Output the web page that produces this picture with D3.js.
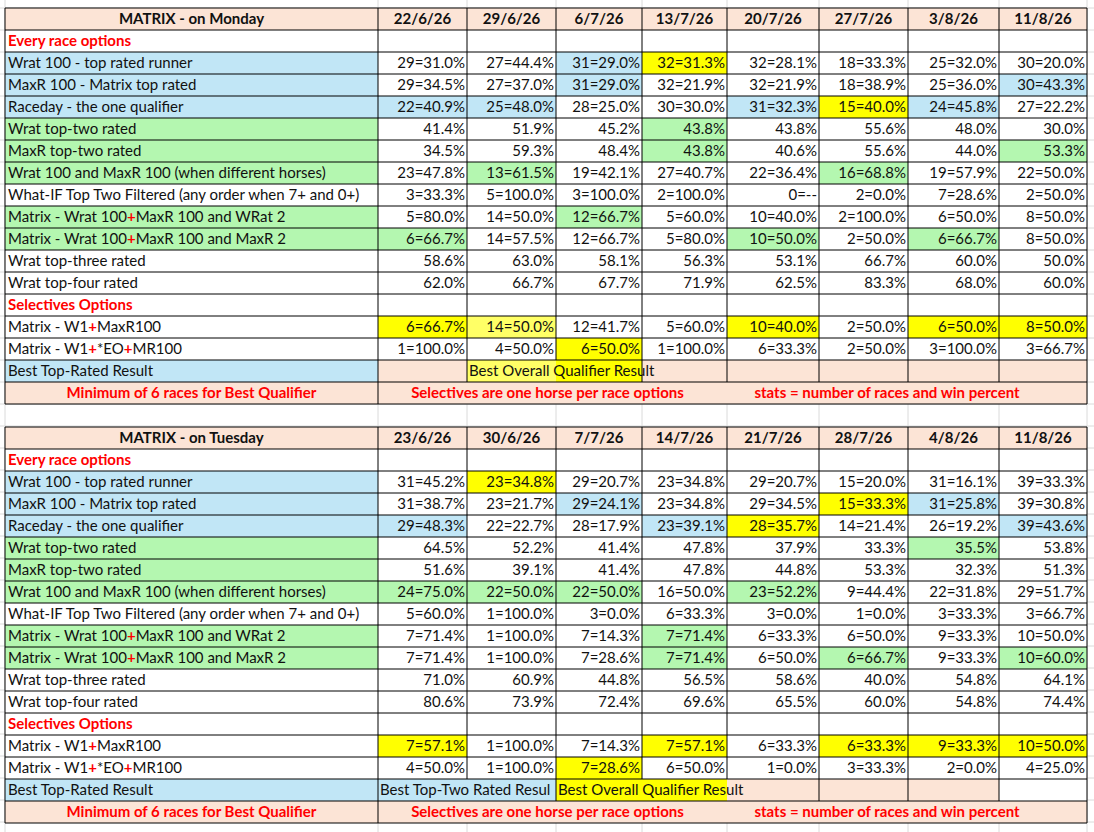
<html>
<head>
<script src="https://d3js.org/d3.v7.min.js"></script>
<style>
  body { margin: 0; background: #fff; }
  text { font-family: Lato, "Open Sans", sans-serif; font-size: 15px; fill: #111; }
  .bold { font-weight: bold; }
  .red { fill: #ff0000; font-weight: bold; }
</style>
</head>
<body>
<svg id="sheet" width="1094" height="832"></svg>
<script>
const mondayDates = ["22/6/26","29/6/26","6/7/26","13/7/26","20/7/26","27/7/26","3/8/26","11/8/26"];
const tuesdayDates = ["23/6/26","30/6/26","7/7/26","14/7/26","21/7/26","28/7/26","4/8/26","11/8/26"];

const rowLabels = [
  "Every race options",
  "Wrat 100 - top rated runner",
  "MaxR 100 - Matrix top rated",
  "Raceday - the one qualifier",
  "Wrat top-two rated",
  "MaxR top-two rated",
  "Wrat 100 and MaxR 100 (when different horses)",
  "What-IF Top Two Filtered (any order when 7+ and 0+)",
  "Matrix - Wrat 100+MaxR 100 and WRat 2",
  "Matrix - Wrat 100+MaxR 100 and MaxR  2",
  "Wrat top-three rated",
  "Wrat top-four rated",
  "Selectives Options",
  "Matrix - W1+MaxR100",
  "Matrix - W1+*EO+MR100",
  "Best Top-Rated Result",
  "Minimum of 6 races for Best Qualifier"
];

const mondayValues = [
  ["","","","","","","",""],
  ["29=31.0%","27=44.4%","31=29.0%","32=31.3%","32=28.1%","18=33.3%","25=32.0%","30=20.0%"],
  ["29=34.5%","27=37.0%","31=29.0%","32=21.9%","32=21.9%","18=38.9%","25=36.0%","30=43.3%"],
  ["22=40.9%","25=48.0%","28=25.0%","30=30.0%","31=32.3%","15=40.0%","24=45.8%","27=22.2%"],
  ["41.4%","51.9%","45.2%","43.8%","43.8%","55.6%","48.0%","30.0%"],
  ["34.5%","59.3%","48.4%","43.8%","40.6%","55.6%","44.0%","53.3%"],
  ["23=47.8%","13=61.5%","19=42.1%","27=40.7%","22=36.4%","16=68.8%","19=57.9%","22=50.0%"],
  ["3=33.3%","5=100.0%","3=100.0%","2=100.0%","0=--","2=0.0%","7=28.6%","2=50.0%"],
  ["5=80.0%","14=50.0%","12=66.7%","5=60.0%","10=40.0%","2=100.0%","6=50.0%","8=50.0%"],
  ["6=66.7%","14=57.5%","12=66.7%","5=80.0%","10=50.0%","2=50.0%","6=66.7%","8=50.0%"],
  ["58.6%","63.0%","58.1%","56.3%","53.1%","66.7%","60.0%","50.0%"],
  ["62.0%","66.7%","67.7%","71.9%","62.5%","83.3%","68.0%","60.0%"],
  ["","","","","","","",""],
  ["6=66.7%","14=50.0%","12=41.7%","5=60.0%","10=40.0%","2=50.0%","6=50.0%","8=50.0%"],
  ["1=100.0%","4=50.0%","6=50.0%","1=100.0%","6=33.3%","2=50.0%","3=100.0%","3=66.7%"]
];

const tuesdayValues = [
  ["","","","","","","",""],
  ["31=45.2%","23=34.8%","29=20.7%","23=34.8%","29=20.7%","15=20.0%","31=16.1%","39=33.3%"],
  ["31=38.7%","23=21.7%","29=24.1%","23=34.8%","29=34.5%","15=33.3%","31=25.8%","39=30.8%"],
  ["29=48.3%","22=22.7%","28=17.9%","23=39.1%","28=35.7%","14=21.4%","26=19.2%","39=43.6%"],
  ["64.5%","52.2%","41.4%","47.8%","37.9%","33.3%","35.5%","53.8%"],
  ["51.6%","39.1%","41.4%","47.8%","44.8%","53.3%","32.3%","51.3%"],
  ["24=75.0%","22=50.0%","22=50.0%","16=50.0%","23=52.2%","9=44.4%","22=31.8%","29=51.7%"],
  ["5=60.0%","1=100.0%","3=0.0%","6=33.3%","3=0.0%","1=0.0%","3=33.3%","3=66.7%"],
  ["7=71.4%","1=100.0%","7=14.3%","7=71.4%","6=33.3%","6=50.0%","9=33.3%","10=50.0%"],
  ["7=71.4%","1=100.0%","7=28.6%","7=71.4%","6=50.0%","6=66.7%","9=33.3%","10=60.0%"],
  ["71.0%","60.9%","44.8%","56.5%","58.6%","40.0%","54.8%","64.1%"],
  ["80.6%","73.9%","72.4%","69.6%","65.5%","60.0%","54.8%","74.4%"],
  ["","","","","","","",""],
  ["7=57.1%","1=100.0%","7=14.3%","7=57.1%","6=33.3%","6=33.3%","9=33.3%","10=50.0%"],
  ["4=50.0%","1=100.0%","7=28.6%","6=50.0%","1=0.0%","3=33.3%","2=0.0%","4=25.0%"]
];

const footNotes = ["Selectives are one horse per race options", "stats = number of races and win percent"];
const mondayBest = [{col: 1, text: "Best Overall Qualifier Result"}];
const tuesdayBest = [{col: 0, text: "Best Top-Two Rated Resul"}, {col: 2, text: "Best Overall Qualifier Result"}];

// fill codes: first char = label cell, then 8 value cells
const colors = {w: "#ffffff", b: "#c1e6f6", g: "#b4f7b0", y: "#ffff00", l: "#ffff66", p: "#fce4d6"};
const mondayFill = [
  "wwwwwwwww","bwwbywwww","bwwbwwwwb","bbbwwbybw","gwwwgwwww","gwwwgwwwg","gwgwwwgww",
  "wwwwwwwww","gwwgwwwww","ggwwwgwgw","wwwwwwwww","wwwwwwwww","wwwwwwwww",
  "wylwwywyy","wwwywwwww","bplyppppp"
];
const tuesdayFill = [
  "wwwwwwwww","bwywwwwww","bwwbwwybw","bbwwbywwb","gwwwwwwgw","gwwwwwwww","ggggwgwww",
  "wwwwwwwww","gwwwgwwww","gwwwgwgwg","wwwwwwwww","wwwwwwwww","wwwwwwwww",
  "wywwywyyy","wwwywwwww","bbbyypppw"
];

const svg = d3.select("#sheet");
const colEdges = [5, 378, 467, 556, 642, 727, 819, 908, 999, 1087];
const rowH = 22;
const nRows = rowLabels.length + 1;

// faint spreadsheet grid
const grid = svg.append("g");
colEdges.forEach(x => grid.append("line").attr("x1", x).attr("x2", x).attr("y1", 0).attr("y2", 832)
  .attr("stroke", "#dadada"));
d3.range(-1, 40).forEach(i => grid.append("line").attr("x1", 0).attr("x2", 1094)
  .attr("y1", 8 + i * rowH).attr("y2", 8 + i * rowH).attr("stroke", "#dadada"));

function plusText(sel, label) {
  const parts = label.split("+");
  const plain = label.startsWith("What-IF") || !label.startsWith("Matrix");
  if (plain) { sel.text(label); return; }
  parts.forEach((p, i) => {
    if (i > 0) sel.append("tspan").attr("class", "red").text("+");
    sel.append("tspan").text(p);
  });
}

function drawTable(top, title, dates, values, fills, best, noLine) {
  const g = svg.append("g");
  const y = d3.scaleBand().domain(d3.range(nRows)).range([top, top + nRows * rowH]);
  const cx = i => colEdges[i];
  const base = r => y(r) + rowH / 2 + 5;
  const rb = rowLabels.length - 1;   // best row
  const rl = rowLabels.length;       // footnote row

  // header
  g.append("rect").attr("x", cx(0)).attr("y", y(0)).attr("width", cx(9) - cx(0)).attr("height", rowH)
    .attr("fill", colors.p);
  g.append("text").attr("class", "bold").attr("x", (cx(0) + cx(1)) / 2).attr("y", base(0))
    .attr("text-anchor", "middle").text(title);
  dates.forEach((d, i) => g.append("text").attr("class", "bold").attr("x", (cx(i + 1) + cx(i + 2)) / 2)
    .attr("y", base(0)).attr("text-anchor", "middle").text(d));

  // body rows
  rowLabels.forEach((label, k) => {
    const r = k + 1;
    const f = fills[k] || "ppppppppp";
    for (let c = 0; c < 9; c++) {
      g.append("rect").attr("x", cx(c)).attr("y", y(r)).attr("width", cx(c + 1) - cx(c)).attr("height", rowH)
        .attr("fill", colors[f[c]]);
    }
    const isSection = k === 0 || k === 12;
    const isLast = k === rowLabels.length - 1;
    const t = g.append("text").attr("y", base(r));
    if (isLast) {
      t.attr("class", "red").attr("x", (cx(0) + cx(1)) / 2).attr("text-anchor", "middle").text(label);
    } else {
      t.attr("x", cx(0) + 3).attr("class", isSection ? "red" : null);
      plusText(t, label);
    }
    if (values[k]) {
      values[k].forEach((v, c) => g.append("text").attr("x", cx(c + 2) - 2).attr("y", base(r))
        .attr("text-anchor", "end").text(v));
    }
  });

  // best row texts (overflowing, clipped where the next text starts)
  best.forEach((b, i) => {
    const id = "clip" + top + "_" + i;
    const next = best[i + 1] ? best[i + 1].col + 1 : 9;
    g.append("clipPath").attr("id", id).append("rect").attr("x", cx(b.col + 1)).attr("y", y(rb))
      .attr("width", cx(next) - cx(b.col + 1)).attr("height", rowH);
    g.append("text").attr("clip-path", "url(#" + id + ")").attr("x", cx(b.col + 1) + 2).attr("y", base(rb)).text(b.text);
  });
  // footnotes
  g.append("text").attr("class", "red").attr("x", (cx(1) + cx(5)) / 2 - 5).attr("y", base(rl))
    .attr("text-anchor", "middle").text(footNotes[0]);
  g.append("text").attr("class", "red").attr("x", (cx(5) + cx(9)) / 2 - 20).attr("y", base(rl))
    .attr("text-anchor", "middle").text(footNotes[1]);

  // borders
  const line = (x1, y1, x2, y2) => g.append("line").attr("x1", x1).attr("y1", y1).attr("x2", x2).attr("y2", y2)
    .attr("stroke", "#000").attr("stroke-width", 1);
  d3.range(nRows + 1).forEach(r => line(cx(0), top + r * rowH, cx(9), top + r * rowH));
  d3.range(nRows).forEach(r => {
    colEdges.forEach((x, c) => {
      if (r === rl && c > 1 && c < 9) return;
      if (r === rb && noLine.includes(c)) return;
      line(x, y(r), x, y(r) + rowH);
    });
  });
}

drawTable(8, "MATRIX - on Monday", mondayDates, mondayValues, mondayFill, mondayBest, [3]);
drawTable(427, "MATRIX - on Tuesday", tuesdayDates, tuesdayValues, tuesdayFill, tuesdayBest, [2, 4, 5]);
</script>
</body>
</html>
